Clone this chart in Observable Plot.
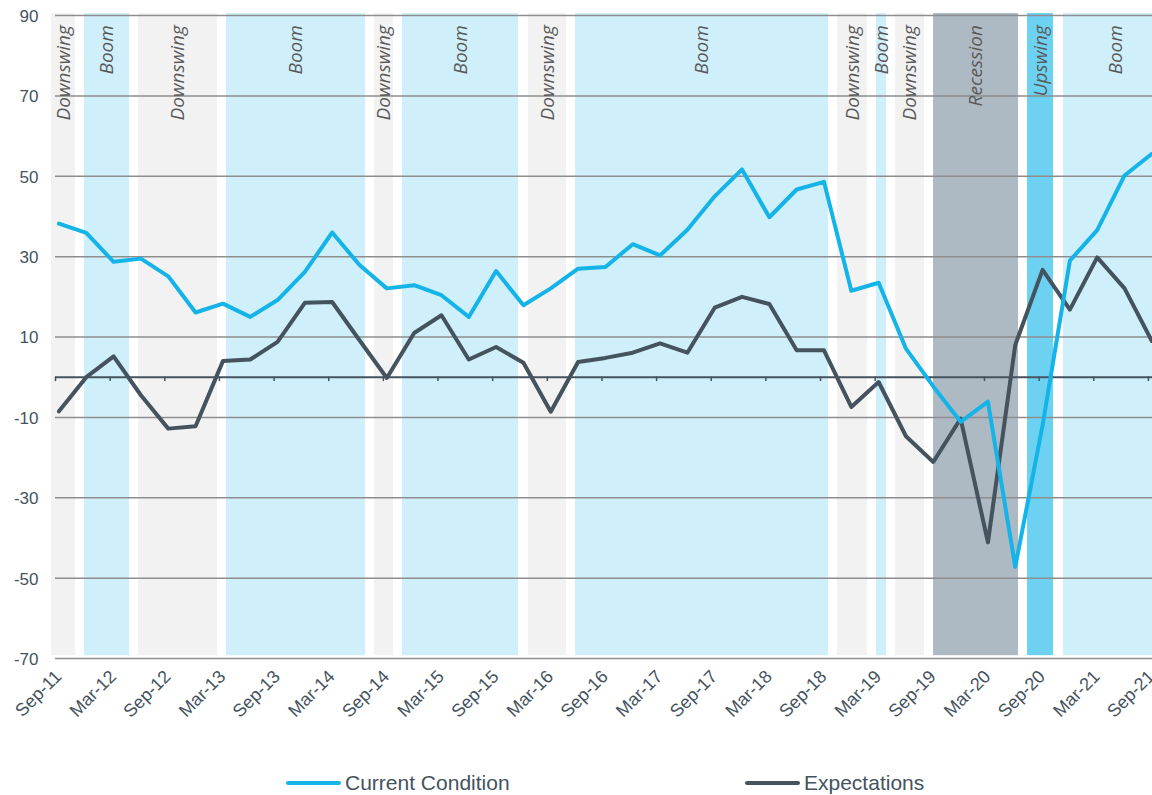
<!DOCTYPE html>
<html><head><meta charset="utf-8">
<script src="https://cdn.jsdelivr.net/npm/d3@7"></script>
<script src="https://cdn.jsdelivr.net/npm/@observablehq/plot@0.6"></script>
<style>
body{margin:0;background:#fff;font-family:"Liberation Sans",Arial,sans-serif;}
#chart svg{display:block;overflow:hidden;}
#legend{position:relative;height:35px;width:1152px;}
.item{position:absolute;top:11px;height:24px;display:flex;align-items:center;font-size:21px;color:#44535e;white-space:nowrap;}
.sw{width:55px;height:4px;border-radius:2px;margin-right:4px;}
</style></head><body>
<div id="chart"></div>
<div id="legend"></div>
<script>
const quarters = ["Sep-11","Dec-11","Mar-12","Jun-12","Sep-12","Dec-12","Mar-13","Jun-13","Sep-13","Dec-13",
  "Mar-14","Jun-14","Sep-14","Dec-14","Mar-15","Jun-15","Sep-15","Dec-15","Mar-16","Jun-16",
  "Sep-16","Dec-16","Mar-17","Jun-17","Sep-17","Dec-17","Mar-18","Jun-18","Sep-18","Dec-18",
  "Mar-19","Jun-19","Sep-19","Dec-19","Mar-20","Jun-20","Sep-20","Dec-20","Mar-21","Jun-21","Sep-21"];
const currentCondition = [38.2,35.9,28.7,29.5,25.1,16.1,18.3,15.0,19.2,26.2,
  36.0,27.9,22.1,22.9,20.4,15.0,26.4,17.9,22.1,27.0,
  27.4,33.1,30.3,36.7,45.0,51.7,39.8,46.7,48.6,21.5,
  23.5,7.1,-2.3,-11.1,-6.1,-47.2,-12.0,29.0,36.6,50.2,55.6];
const expectations = [-8.5,0.0,5.2,-4.5,-12.8,-12.2,4.0,4.4,8.8,18.5,
  18.7,9.2,-0.2,11.0,15.4,4.4,7.5,3.6,-8.6,3.8,
  4.8,6.1,8.4,6.1,17.3,20.0,18.2,6.7,6.7,-7.4,
  -1.2,-14.7,-21.1,-10.3,-41.1,8.0,26.7,16.8,29.8,22.1,9.0];
const tickLabels = ["Sep-11","Mar-12","Sep-12","Mar-13","Sep-13","Mar-14","Sep-14","Mar-15","Sep-15","Mar-16",
  "Sep-16","Mar-17","Sep-17","Mar-18","Sep-18","Mar-19","Sep-19","Mar-20","Sep-20","Mar-21","Sep-21"];
const yTicks = [-70,-50,-30,-10,10,30,50,70,90];
// phases, in months since Sep-11
const phaseNames = ["Downswing","Boom","Downswing","Boom","Downswing","Boom","Downswing","Boom","Downswing","Boom","Downswing","Recession","Upswing","Boom"];
const phaseStart = [-0.44,3.18,9.11,18.78,35.03,38.10,51.94,57.10,85.87,90.15,92.24,96.41,106.73,110.68];
const phaseEnd   = [2.20,8.13,17.79,34.04,37.11,50.84,56.11,84.88,89.16,91.25,95.42,105.74,109.58,122.2];
const phaseColors = {Downswing:"#f2f2f2", Boom:"#cfeffa", Recession:"#adb9c3", Upswing:"#6dd2f2"};
const seriesNames = ["Current Condition","Expectations"];
const seriesColors = ["#15b4e8","#44535e"];

const pointOffset = 0.38; // data points sit slightly after the month tick
const data = quarters.map((q,i)=>({q, m: 3*i + pointOffset, current: currentCondition[i], expect: expectations[i]}));
const phases = phaseNames.map((name,i)=>({name, start: phaseStart[i], end: phaseEnd[i]}));
const tickMonths = tickLabels.map((_,i)=>i*6);

const chart = Plot.plot({
  width: 1152, height: 760,
  marginLeft: 55, marginRight: 0, marginTop: 15, marginBottom: 102,
  style: {fontFamily: '"Liberation Sans", Arial, sans-serif', background: "#fff", overflow: "hidden"},
  x: {type: "linear", domain: [0, 120.45]},
  y: {domain: [-70, 90]},
  marks: [
    Plot.rectY(phases, {x1: "start", x2: "end", y1: -69.3, y2: 90.5, fill: d => phaseColors[d.name]}),
    Plot.ruleY(yTicks, {stroke: "#8e8e8e", strokeWidth: 1.5}),
    Plot.ruleY([0], {stroke: "#44535e", strokeWidth: 2}),
    Plot.ruleX(tickMonths, {y1: 0, y2: -1.1, stroke: "#44535e", strokeWidth: 1.5}),
    Plot.text(phases, {x: d => (d.start + d.end)/2, y: 87.6, text: "name", rotate: -90, textAnchor: "end", lineAnchor: "middle",
      fontFamily: '"Open Sans", sans-serif', fontStyle: "italic", fontSize: 19, fill: "#595959"}),
    Plot.line(data, {x: "m", y: "expect", stroke: seriesColors[1], strokeWidth: 4, strokeLinejoin: "round", strokeLinecap: "round"}),
    Plot.line(data, {x: "m", y: "current", stroke: seriesColors[0], strokeWidth: 4, strokeLinejoin: "round", strokeLinecap: "round"}),
    Plot.axisY({ticks: yTicks, tickFormat: d => String(d), tickSize: 0, tickPadding: 17, fontSize: 17, fill: "#44535e", dy: 1}),
    Plot.axisX({ticks: tickMonths, tickFormat: d => tickLabels[Math.round(d/6)], tickSize: 0, tickPadding: 15, tickRotate: -45, fontSize: 18, fill: "#44535e", dx: 3})
  ]
});
document.getElementById("chart").appendChild(chart);

const legend = document.getElementById("legend");
const legendLeft = [286, 745];
seriesNames.forEach((name,i)=>{
  const it = document.createElement("div");
  it.className = "item";
  it.style.left = legendLeft[i] + "px";
  const sw = document.createElement("span");
  sw.className = "sw";
  sw.style.background = seriesColors[i];
  const tx = document.createElement("span");
  tx.textContent = name;
  it.appendChild(sw); it.appendChild(tx);
  legend.appendChild(it);
});
</script>
</body></html>
